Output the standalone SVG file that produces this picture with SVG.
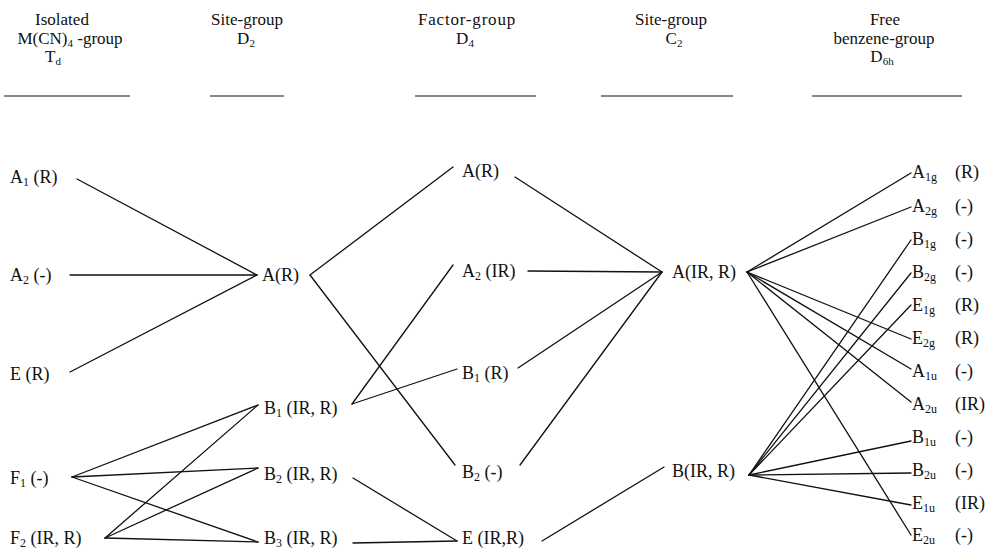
<svg xmlns="http://www.w3.org/2000/svg" width="986" height="550" viewBox="0 0 986 550">
<style>
text{font-family:"Liberation Serif","Times New Roman",serif;fill:#111}
.h{font-size:17px;text-anchor:middle}
.l{font-size:18px}
.s{font-size:12px}
.hs{font-size:11px}
#connectors line{stroke:#111;stroke-width:1.3;fill:none;stroke-linecap:round}
.rule{stroke:#111;stroke-width:1.2}
</style>
<rect width="986" height="550" fill="#fff"/>
<g id="headers">
  <g id="h-td">
    <text class="h" x="62" y="25">Isolated</text>
    <text class="h" x="70" y="44">M(CN)<tspan class="hs" dy="3">4</tspan><tspan dy="-3"> -group</tspan></text>
    <text class="h" x="53" y="62">T<tspan class="hs" dy="3">d</tspan></text>
    <line class="rule" x1="4" y1="96" x2="130" y2="96"/>
  </g>
  <g id="h-d2">
    <text class="h" x="247" y="25">Site-group</text>
    <text class="h" x="246" y="44">D<tspan class="hs" dy="3">2</tspan></text>
    <line class="rule" x1="210" y1="96" x2="284" y2="96"/>
  </g>
  <g id="h-d4">
    <text class="h" x="467" y="25" letter-spacing="0.8">Factor-group</text>
    <text class="h" x="465" y="44">D<tspan class="hs" dy="3">4</tspan></text>
    <line class="rule" x1="415" y1="96" x2="536" y2="96"/>
  </g>
  <g id="h-c2">
    <text class="h" x="671" y="25">Site-group</text>
    <text class="h" x="674" y="44">C<tspan class="hs" dy="3">2</tspan></text>
    <line class="rule" x1="601" y1="96" x2="733" y2="96"/>
  </g>
  <g id="h-d6h">
    <text class="h" x="885" y="25">Free</text>
    <text class="h" x="884" y="44">benzene-group</text>
    <text class="h" x="882" y="62">D<tspan class="hs" dy="3">6h</tspan></text>
    <line class="rule" x1="812" y1="96" x2="962" y2="96"/>
  </g>
</g>
<g id="connectors">
  <line x1="77" y1="179" x2="257" y2="275"/>
  <line x1="70" y1="275" x2="257" y2="275"/>
  <line x1="70" y1="372" x2="257" y2="275"/>
  <line x1="72" y1="477" x2="258" y2="405"/>
  <line x1="72" y1="477" x2="258" y2="468"/>
  <line x1="72" y1="477" x2="258" y2="542"/>
  <line x1="105" y1="538" x2="258" y2="405"/>
  <line x1="105" y1="538" x2="258" y2="468"/>
  <line x1="105" y1="538" x2="258" y2="542"/>
  <line x1="310" y1="275" x2="453" y2="167"/>
  <line x1="310" y1="275" x2="455" y2="465"/>
  <line x1="352" y1="404" x2="453" y2="265"/>
  <line x1="352" y1="404" x2="457" y2="369"/>
  <line x1="353" y1="478" x2="457" y2="541"/>
  <line x1="353" y1="543" x2="457" y2="541"/>
  <line x1="515" y1="177" x2="662" y2="272"/>
  <line x1="528" y1="271" x2="662" y2="272"/>
  <line x1="518" y1="368" x2="662" y2="272"/>
  <line x1="520" y1="465" x2="662" y2="272"/>
  <line x1="542" y1="541" x2="664" y2="467"/>
  <line x1="747" y1="272" x2="911" y2="173"/>
  <line x1="747" y1="272" x2="911" y2="207"/>
  <line x1="747" y1="272" x2="911" y2="339"/>
  <line x1="747" y1="272" x2="911" y2="369"/>
  <line x1="747" y1="272" x2="911" y2="402"/>
  <line x1="747" y1="272" x2="911" y2="535"/>
  <line x1="749" y1="475" x2="911" y2="240"/>
  <line x1="749" y1="475" x2="911" y2="273"/>
  <line x1="749" y1="475" x2="911" y2="305"/>
  <line x1="749" y1="475" x2="911" y2="441"/>
  <line x1="749" y1="475" x2="911" y2="473"/>
  <line x1="749" y1="475" x2="911" y2="505"/>
</g>
<g id="col-td">
  <g id="n-a1"><text class="l" x="10" y="183">A<tspan class="s" dy="3">1</tspan><tspan dy="-3"> (R)</tspan></text></g>
  <g id="n-a2"><text class="l" x="10" y="281">A<tspan class="s" dy="3">2</tspan><tspan dy="-3"> (-)</tspan></text></g>
  <g id="n-e"><text class="l" x="10" y="380">E (R)</text></g>
  <g id="n-f1"><text class="l" x="10" y="484">F<tspan class="s" dy="3">1</tspan><tspan dy="-3"> (-)</tspan></text></g>
  <g id="n-f2"><text class="l" x="10" y="544">F<tspan class="s" dy="3">2</tspan><tspan dy="-3"> (IR, R)</tspan></text></g>
</g>
<g id="col-d2">
  <g id="n-d2-a"><text class="l" x="262" y="281">A(R)</text></g>
  <g id="n-d2-b1"><text class="l" x="264" y="414">B<tspan class="s" dy="3">1</tspan><tspan dy="-3"> (IR, R)</tspan></text></g>
  <g id="n-d2-b2"><text class="l" x="264" y="480">B<tspan class="s" dy="3">2</tspan><tspan dy="-3"> (IR, R)</tspan></text></g>
  <g id="n-d2-b3"><text class="l" x="264" y="544">B<tspan class="s" dy="3">3</tspan><tspan dy="-3"> (IR, R)</tspan></text></g>
</g>
<g id="col-d4">
  <g id="n-d4-a"><text class="l" x="462" y="177">A(R)</text></g>
  <g id="n-d4-a2"><text class="l" x="462" y="277">A<tspan class="s" dy="3">2</tspan><tspan dy="-3"> (IR)</tspan></text></g>
  <g id="n-d4-b1"><text class="l" x="462" y="379">B<tspan class="s" dy="3">1</tspan><tspan dy="-3"> (R)</tspan></text></g>
  <g id="n-d4-b2"><text class="l" x="462" y="478">B<tspan class="s" dy="3">2</tspan><tspan dy="-3"> (-)</tspan></text></g>
  <g id="n-d4-e"><text class="l" x="462" y="544">E (IR,R)</text></g>
</g>
<g id="col-c2">
  <g id="n-c2-a"><text class="l" x="672" y="278">A(IR, R)</text></g>
  <g id="n-c2-b"><text class="l" x="672" y="477">B(IR, R)</text></g>
</g>
<g id="col-d6h">
  <g id="n-a1g"><text class="l" x="912" y="178">A<tspan class="s" dy="3">1g</tspan></text><text class="l" x="955" y="178">(R)</text></g>
  <g id="n-a2g"><text class="l" x="912" y="212">A<tspan class="s" dy="3">2g</tspan></text><text class="l" x="955" y="212">(-)</text></g>
  <g id="n-b1g"><text class="l" x="912" y="245">B<tspan class="s" dy="3">1g</tspan></text><text class="l" x="955" y="245">(-)</text></g>
  <g id="n-b2g"><text class="l" x="912" y="278">B<tspan class="s" dy="3">2g</tspan></text><text class="l" x="955" y="278">(-)</text></g>
  <g id="n-e1g"><text class="l" x="912" y="311">E<tspan class="s" dy="3">1g</tspan></text><text class="l" x="955" y="311">(R)</text></g>
  <g id="n-e2g"><text class="l" x="912" y="344">E<tspan class="s" dy="3">2g</tspan></text><text class="l" x="955" y="344">(R)</text></g>
  <g id="n-a1u"><text class="l" x="912" y="377">A<tspan class="s" dy="3">1u</tspan></text><text class="l" x="955" y="377">(-)</text></g>
  <g id="n-a2u"><text class="l" x="912" y="410">A<tspan class="s" dy="3">2u</tspan></text><text class="l" x="955" y="410">(IR)</text></g>
  <g id="n-b1u"><text class="l" x="912" y="443">B<tspan class="s" dy="3">1u</tspan></text><text class="l" x="955" y="443">(-)</text></g>
  <g id="n-b2u"><text class="l" x="912" y="476">B<tspan class="s" dy="3">2u</tspan></text><text class="l" x="955" y="476">(-)</text></g>
  <g id="n-e1u"><text class="l" x="912" y="509">E<tspan class="s" dy="3">1u</tspan></text><text class="l" x="955" y="509">(IR)</text></g>
  <g id="n-e2u"><text class="l" x="912" y="541">E<tspan class="s" dy="3">2u</tspan></text><text class="l" x="955" y="541">(-)</text></g>
</g>
</svg>
